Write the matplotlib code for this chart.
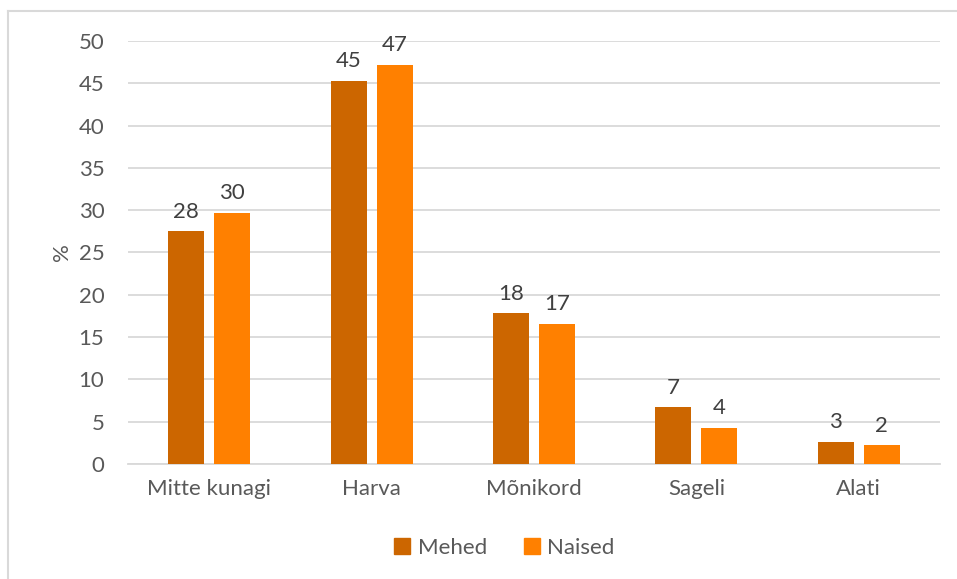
import matplotlib
matplotlib.use("Agg")
import matplotlib.pyplot as plt
from matplotlib.lines import Line2D
import numpy as np

categories = ["Mitte kunagi", "Harva", "Mõnikord", "Sageli", "Alati"]
mehed = [27.5, 45.3, 17.8, 6.7, 2.6]
naised = [29.7, 47.2, 16.6, 4.3, 2.2]
series_names = ["Mehed", "Naised"]
colors = ["#CC6600", "#FF8000"]

plt.rcParams["font.family"] = ["Lato", "DejaVu Sans"]
text_color = "#595959"
grid_color = "#D9D9D9"

fig = plt.figure(figsize=(9.57, 5.79), dpi=100)
ax = fig.add_axes([128 / 957, 1 - 464 / 579, (940 - 128) / 957, (464 - 41) / 579])

x = np.arange(len(categories))
width = 0.222
offset = 0.142
for vals, name, color, dx in zip([mehed, naised], series_names, colors, [-offset, offset]):
    bars = ax.bar(x + dx, vals, width, color=color, label=name, zorder=3)
    for rect, v in zip(bars, vals):
        ax.annotate(f"{v:.0f}", (rect.get_x() + rect.get_width() / 2, v),
                    xytext=(0, 7), textcoords="offset points",
                    ha="center", va="bottom", fontsize=16, color="#404040")

ax.set_xlim(-0.5, len(categories) - 0.5)
ax.set_ylim(0, 50)
ax.set_yticks(range(0, 51, 5))
ax.set_xticks(x)
ax.set_xticklabels(categories)
ax.tick_params(axis="both", length=0, labelsize=16, colors=text_color)
ax.tick_params(axis="y", pad=17)
ax.tick_params(axis="x", pad=11)
ax.yaxis.grid(True, color=grid_color, linewidth=1.3, zorder=0)
for side in ["top", "right", "left"]:
    ax.spines[side].set_visible(False)
ax.spines["bottom"].set_color(grid_color)
ax.spines["bottom"].set_linewidth(1.3)
ax.set_ylabel("%", fontsize=16, color=text_color, labelpad=5)

handles = [Line2D([], [], marker="s", linestyle="", markersize=12, color=c) for c in colors]
fig.legend(handles, series_names, loc="center", bbox_to_anchor=(504 / 957, 1 - 548 / 579),
           ncol=2, frameon=False, fontsize=16, handlelength=0.8, handletextpad=0.3,
           columnspacing=1.6, labelcolor=text_color)

# outer chart frame: only left and top edges fall inside the image
fig.add_artist(Line2D([8 / 957, 8 / 957], [0, 1 - 11 / 579], color=grid_color, linewidth=1.5,
                      transform=fig.transFigure))
fig.add_artist(Line2D([8 / 957, 1], [1 - 11 / 579, 1 - 11 / 579], color=grid_color, linewidth=1.5,
                      transform=fig.transFigure))

fig.savefig("out.png", dpi=100)
